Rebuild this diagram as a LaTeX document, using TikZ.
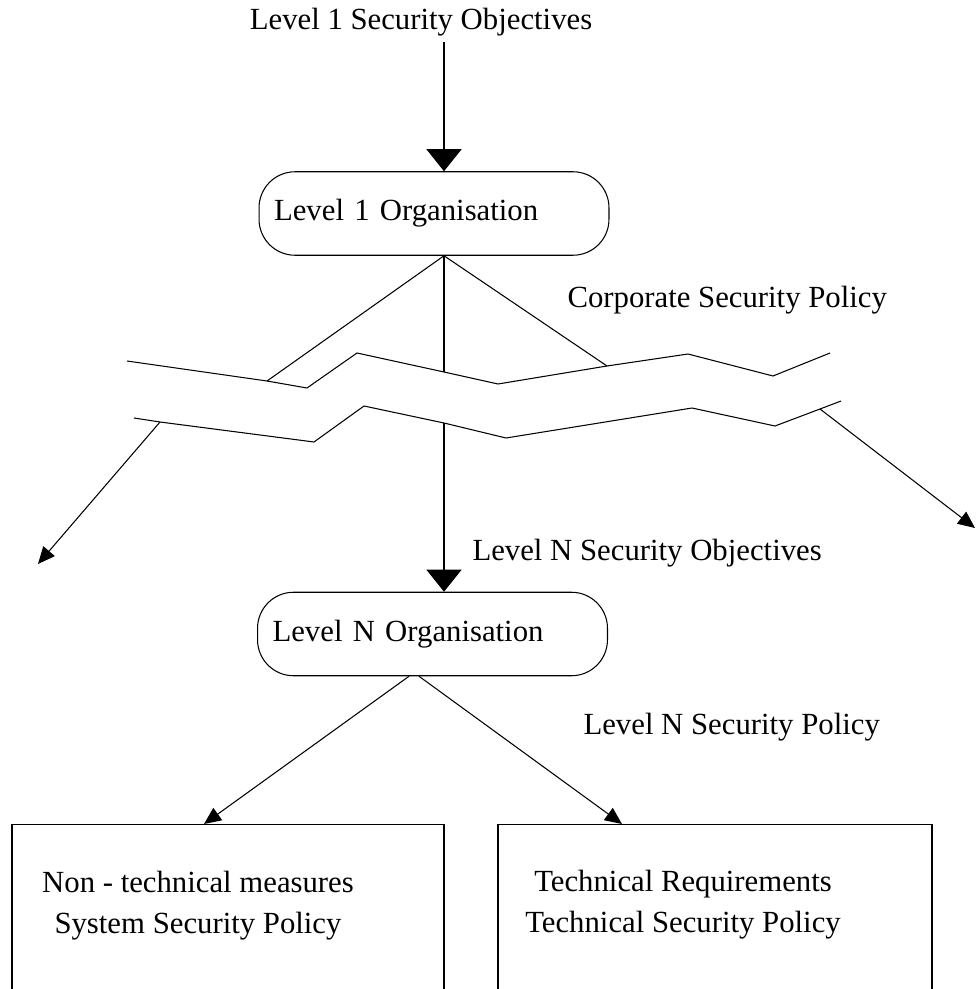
\documentclass[tikz,border=0pt]{standalone}
\usepackage{fontspec}
\setmainfont{Liberation Serif}
\usepackage{tikz}
\usetikzlibrary{arrows.meta,calc}

\begin{document}
\begin{tikzpicture}[x=0.02cm,y=-0.02cm,
    font=\fontsize{17.5}{23.3}\selectfont,
    line width=0.6pt,
    orgbox/.style={draw,rounded corners=0.72cm,minimum height=1.67cm,text width=6.4cm,inner xsep=0.3cm,inner ysep=0pt,align=left},
    measurebox/.style={draw,line width=0.8pt,minimum height=4.6cm,inner sep=0pt,anchor=north},
    bigtip/.style={-{Triangle[length=0.44cm,width=0.7cm]}},
    smalltip/.style={-{Triangle[length=0.34cm,width=0.3cm]}}]
    \useasboundingbox (0,0) rectangle (975,989);
    \coordinate (spine) at (444,0);
    \node (obj1) at (421,22) {Level 1 Security Objectives};
    \node[orgbox] (org1) at (434,213.5) {Level 1 Organisation};
    \draw[bigtip] (obj1.south -| spine) -- (org1.north -| spine);
    \draw (127,361) -- (267,381) coordinate (uleft) -- (307,388) -- (357,353) -- (444,372) coordinate (umid) -- (498,384) -- (607,366) coordinate (uright) -- (688,354) -- (773,376) -- (830,353);
    \draw (134,418) -- (160,422) coordinate (lleft) -- (314,442) -- (364,406) -- (444,423) coordinate (lmid) -- (506,438) -- (692,408) -- (775,426) -- (820,409) coordinate (lright) -- (841,401);
    \draw (org1.south -| spine) -- (uleft);
    \draw (org1.south -| spine) -- (umid);
    \draw (org1.south -| spine) -- (uright);
    \node[anchor=west,inner sep=0pt] (corp) at (567,300) {Corporate Security Policy};
    \coordinate (farleft) at (38,564);
    \coordinate (farright) at (975,528);
    \draw[smalltip] (lleft) -- (farleft);
    \draw[smalltip] (lright) -- (farright);
    \node[orgbox] (orgN) at (432.5,634) {Level N Organisation};
    \draw[bigtip] (lmid) -- (orgN.north -| spine);
    \node[anchor=west,inner sep=0pt] (objN) at (472,553) {Level N Security Objectives};
    \node[anchor=west,inner sep=0pt] (polN) at (583,727) {Level N Security Policy};
    \node[measurebox,minimum width=8.64cm] (nontech) at (228,824) {};
    \node[measurebox,minimum width=8.68cm] (tech) at (715,824) {};
    \node[align=center] (nontechtxt) at (198,906) {Non - technical measures\\System Security Policy};
    \node[align=center] (techtxt) at (683,905) {Technical Requirements\\Technical Security Policy};
    \draw[smalltip] ([xshift=-0.47cm]orgN.south) -- (nontech.north -| 204,0);
    \draw[smalltip] ([xshift=-0.27cm]orgN.south) -- (tech.north -| 622,0);
\end{tikzpicture}
\end{document}
